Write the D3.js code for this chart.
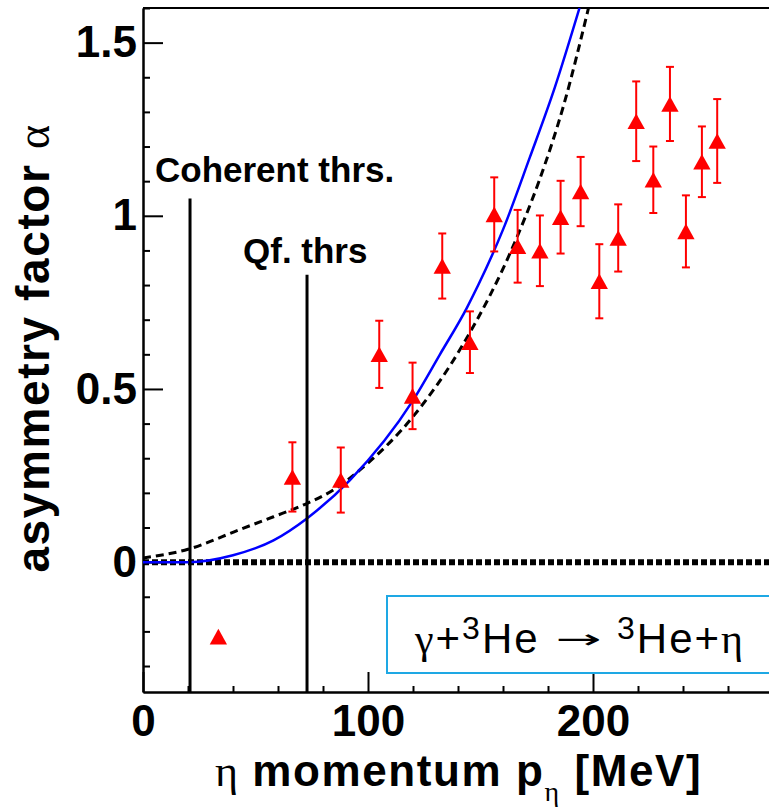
<!DOCTYPE html>
<html lang="en">
<head>
<meta charset="UTF-8">
<title>asymmetry factor</title>
<script src="https://cdn.jsdelivr.net/npm/d3@7"></script>
<style>
    body { margin: 0; background: #fff; }
    .ejes text {
        font-family: 'Liberation Sans', Arial, sans-serif;
        font-weight: 700;
        font-size: 44px;
        fill: #000;
    }
    .ejes path, .ejes line { stroke: #000; stroke-width: 2; }
    .titulo { font-family: 'Liberation Sans', Arial, sans-serif; font-weight: 700; fill: #000; letter-spacing: 1.6px; }
    .griego { font-family: 'Liberation Serif', 'Times New Roman', serif; font-weight: 400; }
    .umbral { font-family: 'Liberation Sans', Arial, sans-serif; font-weight: 700; font-size: 35px; fill: #000; }
    .leyenda { font-family: 'Liberation Sans', Arial, sans-serif; font-weight: 400; font-size: 42px; fill: #000; letter-spacing: 2px; }
</style>
</head>
<body>
<div id="grafico"></div>
<script>
// datos medidos (puntos rojos)
var pEta = [66.4, 87.9, 105.0, 119.8, 133.0, 145.3, 156.1, 166.5, 176.4, 185.6, 194.5, 202.8, 211.2, 219.2, 226.8, 234.2, 241.3, 248.4, 255.2];
var alfa = [0.246, 0.237, 0.600, 0.480, 0.855, 0.635, 1.004, 0.912, 0.899, 0.996, 1.070, 0.811, 0.936, 1.273, 1.104, 1.323, 0.955, 1.156, 1.216];
var alfaErr = [0.100, 0.094, 0.097, 0.096, 0.094, 0.089, 0.107, 0.105, 0.102, 0.105, 0.100, 0.107, 0.097, 0.115, 0.096, 0.107, 0.104, 0.102, 0.121];
// punto suelto sin barra de error
var pSuelto = [33.5];
var alfaSuelto = [-0.215];

// curva azul (continua)
var pAzul = [0, 20, 40, 58, 73, 92, 120, 132, 144, 149, 160, 172, 183, 194];
var alfaAzul = [0, 0, 0.02, 0.063, 0.127, 0.237, 0.467, 0.60, 0.735, 0.80, 0.96, 1.17, 1.37, 1.6];
// curva negra (a trazos)
var pTrazos = [0, 20, 43, 58, 71, 85, 98, 120, 142, 166, 176, 187, 198];
var alfaTrazos = [0.012, 0.037, 0.094, 0.131, 0.164, 0.21, 0.275, 0.42, 0.626, 0.935, 1.10, 1.32, 1.6];

// umbrales
var umbralP = [20.9, 72.9];
var umbralTope = [1.05, 0.83];
var umbralTexto = ["Coherent thrs.", "Qf. thrs"];

var xMayores = [0, 100, 200];
var yMayores = [0, 0.5, 1, 1.5];

var w = 769, h = 809;
var izq = 143, arriba = 8, abajo = 692;

var xScale = d3.scaleLinear().domain([0, 280]).range([izq, izq + 630]);
var yScale = d3.scaleLinear().domain([-0.375, 1.6]).range([abajo, arriba]);

var svg = d3.select("#grafico")
    .append("svg")
    .attr("width", w)
    .attr("height", h);

svg.append("defs").append("clipPath")
    .attr("id", "recorte")
    .append("rect")
    .attr("x", izq).attr("y", arriba)
    .attr("width", w - izq).attr("height", abajo - arriba);

// marco superior
svg.append("line")
    .attr("x1", izq).attr("x2", w)
    .attr("y1", arriba).attr("y2", arriba)
    .attr("stroke", "#000").attr("stroke-width", 2);

// ejes: menores y mayores
var xMenores = d3.range(0, 281, 20).filter(function(d){ return xMayores.indexOf(d) < 0; });
var yMenores = d3.range(-0.3, 1.61, 0.1).filter(function(d){ return Math.abs(d * 2 - Math.round(d * 2)) > 0.01; });

svg.append("g").attr("class", "ejes")
    .attr("transform", "translate(0," + abajo + ")")
    .call(d3.axisBottom(xScale).tickValues(xMenores).tickSize(-6).tickSizeOuter(0).tickFormat(""));
svg.append("g").attr("class", "ejes")
    .attr("transform", "translate(0," + abajo + ")")
    .call(d3.axisBottom(xScale).tickValues(xMayores).tickSize(-20).tickSizeOuter(0).tickPadding(13).tickFormat(d3.format("d")));

svg.append("g").attr("class", "ejes")
    .attr("transform", "translate(" + izq + ",0)")
    .call(d3.axisLeft(yScale).tickValues(yMenores).tickSize(-7).tickSizeOuter(0).tickFormat(""));
svg.append("g").attr("class", "ejes")
    .attr("transform", "translate(" + izq + ",0)")
    .call(d3.axisLeft(yScale).tickValues(yMayores).tickSize(-20).tickSizeOuter(0).tickPadding(6).tickFormat(function(d){ return d; }));

// linea del cero
svg.append("line")
    .attr("x1", xScale(0)).attr("x2", w)
    .attr("y1", yScale(0)).attr("y2", yScale(0))
    .attr("stroke", "#000").attr("stroke-width", 6)
    .attr("stroke-dasharray", "6,3");

var plot = svg.append("g").attr("clip-path", "url(#recorte)");

var linea = d3.line()
    .x(function(d){ return xScale(d[0]); })
    .y(function(d){ return yScale(d[1]); })
    .curve(d3.curveMonotoneX);

plot.append("path")
    .datum(d3.zip(pTrazos, alfaTrazos))
    .attr("d", linea)
    .attr("fill", "none").attr("stroke", "#000")
    .attr("stroke-width", 3).attr("stroke-dasharray", "8,5");

plot.append("path")
    .datum(d3.zip(pAzul, alfaAzul))
    .attr("d", linea)
    .attr("fill", "none").attr("stroke", "#0000ff")
    .attr("stroke-width", 2.5);

// umbrales verticales
svg.selectAll(".umbralLinea")
    .data(umbralP)
    .enter()
    .append("line")
    .attr("x1", function(d){ return xScale(d); })
    .attr("x2", function(d){ return xScale(d); })
    .attr("y1", function(d, i){ return yScale(umbralTope[i]); })
    .attr("y2", abajo)
    .attr("stroke", "#000").attr("stroke-width", 3);

svg.selectAll(".umbral")
    .data(umbralTexto)
    .enter()
    .append("text")
    .attr("class", "umbral")
    .attr("x", function(d, i){ return i == 0 ? 155 : 243; })
    .attr("y", function(d, i){ return i == 0 ? 182 : 263; })
    .text(function(d){ return d; });

// barras de error
var puntos = d3.range(pEta.length);
var rojo = "#ff0000";
var errG = plot.append("g").attr("stroke", rojo).attr("stroke-width", 2);
errG.selectAll(".barra").data(puntos).enter().append("line")
    .attr("x1", function(i){ return xScale(pEta[i]); })
    .attr("x2", function(i){ return xScale(pEta[i]); })
    .attr("y1", function(i){ return yScale(alfa[i] + alfaErr[i]); })
    .attr("y2", function(i){ return yScale(alfa[i] - alfaErr[i]); });
[1, -1].forEach(function(s){
    errG.selectAll(".tapa" + s).data(puntos).enter().append("line")
        .attr("x1", function(i){ return xScale(pEta[i]) - 4; })
        .attr("x2", function(i){ return xScale(pEta[i]) + 4; })
        .attr("y1", function(i){ return yScale(alfa[i] + s * alfaErr[i]); })
        .attr("y2", function(i){ return yScale(alfa[i] + s * alfaErr[i]); });
});

// triangulo centrado en su caja (como ROOT)
var triangulo = {
    draw: function(ctx, size){
        var a = Math.sqrt(size);
        ctx.moveTo(0, -a * 0.45);
        ctx.lineTo(a * 0.5, a * 0.45);
        ctx.lineTo(-a * 0.5, a * 0.45);
        ctx.closePath();
    }
};
var simbolo = d3.symbol().type(triangulo).size(300);

plot.selectAll(".tri")
    .data(d3.zip(pEta, alfa).concat(d3.zip(pSuelto, alfaSuelto)))
    .enter()
    .append("path")
    .attr("d", simbolo)
    .attr("transform", function(d){ return "translate(" + xScale(d[0]) + "," + yScale(d[1]) + ")"; })
    .attr("fill", rojo);

// caja de leyenda
svg.append("rect")
    .attr("x", 387).attr("y", 596)
    .attr("width", 400).attr("height", 77)
    .attr("fill", "#fff").attr("stroke", "#1ea8e4").attr("stroke-width", 2);

var ley1 = svg.append("text").attr("class", "leyenda").attr("x", 415).attr("y", 653);
ley1.append("tspan").attr("class", "griego").text("γ");
ley1.append("tspan").text("+");
ley1.append("tspan").attr("font-size", "32px").attr("dy", -14).text("3");
ley1.append("tspan").attr("dy", 14).text("He");

// flecha fina y larga como en el original
svg.append("text")
    .attr("x", 556).attr("y", 648)
    .attr("font-family", "'DejaVu Sans', sans-serif")
    .attr("font-size", "26px")
    .attr("textLength", 46).attr("lengthAdjust", "spacingAndGlyphs")
    .text("→");

var ley2 = svg.append("text").attr("class", "leyenda").attr("x", 617).attr("y", 653);
ley2.append("tspan").attr("font-size", "32px").attr("dy", -14).text("3");
ley2.append("tspan").attr("dy", 14).text("He+");
ley2.append("tspan").attr("class", "griego").text("η");

// titulo eje x
var tx = svg.append("text").attr("class", "titulo").attr("font-size", "44px").attr("x", 215).attr("y", 786);
tx.append("tspan").attr("class", "griego").text("η ");
tx.append("tspan").text("momentum p");
tx.append("tspan").attr("class", "griego").attr("font-size", "28px").attr("dy", 15).text("η");
tx.append("tspan").attr("dy", -15).text(" [MeV]");

// titulo eje y
var ty = svg.append("text").attr("class", "titulo").attr("font-size", "46px")
    .attr("text-anchor", "middle")
    .attr("transform", "translate(49,348) rotate(-90)");
ty.append("tspan").text("asymmetry factor ");
ty.append("tspan").attr("class", "griego").text("α");
</script>
</body>
</html>
